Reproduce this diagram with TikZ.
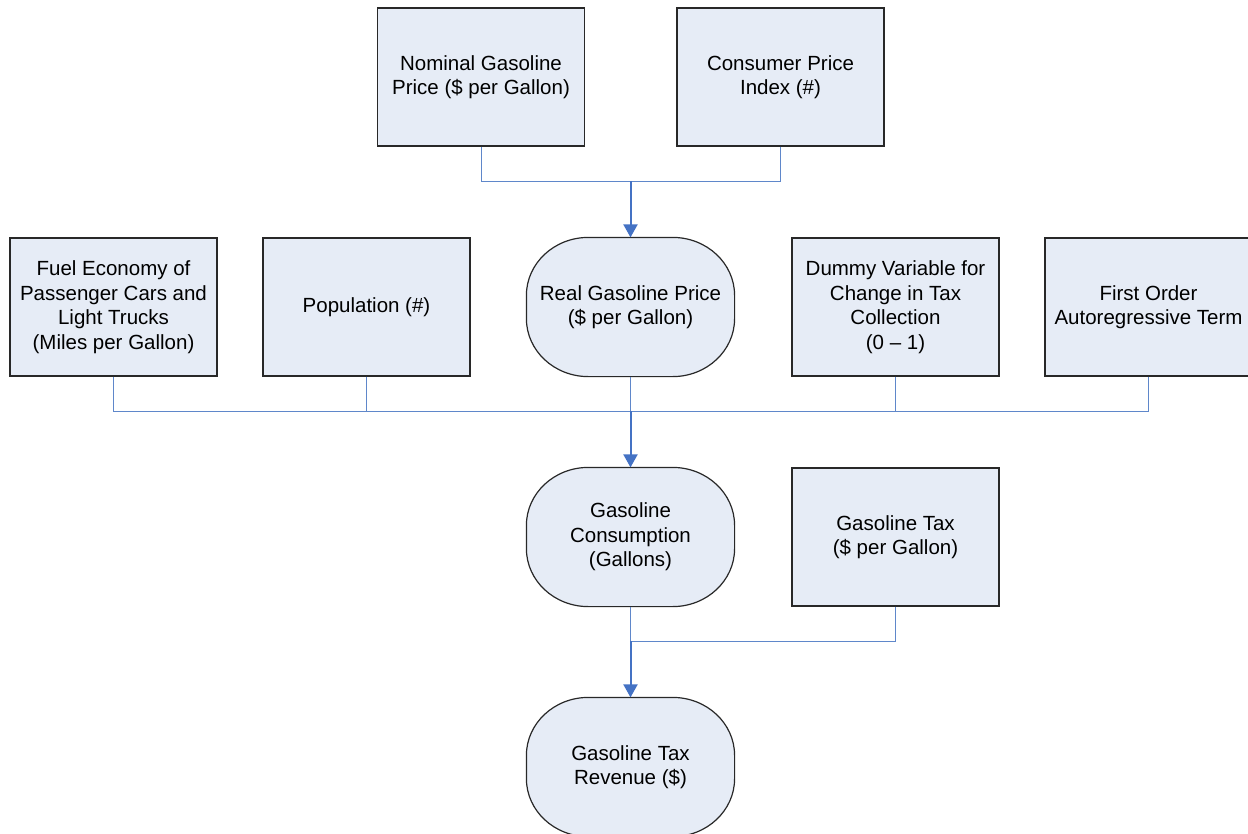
\documentclass[tikz,border=0pt]{standalone}
\usepackage{fontspec}
\setmainfont{Liberation Sans}
\usetikzlibrary{arrows.meta,backgrounds}
\definecolor{boxfill}{RGB}{230,236,246}
\definecolor{boxline}{RGB}{40,40,40}
\definecolor{thinblue}{RGB}{95,135,202}
\definecolor{arrowblue}{RGB}{68,114,196}
\tikzset{
  base/.style={line width=1.2pt, minimum width=207pt,
    minimum height=138pt, inner sep=0pt, align=center,
    font=\fontsize{20.5}{24.5}\selectfont},
  sqbox/.style={base, rectangle, draw=boxline, fill=boxfill},
  rndbox/.style={base, rectangle},
  outline/.style={draw=boxline, line width=1.2pt, fill=boxfill},
  thin/.style={draw=thinblue, line width=1pt},
  flow/.style={draw=arrowblue, line width=2pt, -{Triangle[width=14pt,length=13pt]}}
}
\newcommand\stadiumpath[1]{%
 ([xshift=62pt]#1.north west) -- ([xshift=-62pt]#1.north east)
 arc[start angle=90, end angle=0, x radius=62pt, y radius=58pt]
 -- ([yshift=58pt]#1.south east)
 arc[start angle=0, end angle=-90, x radius=62pt, y radius=58pt]
 -- ([xshift=62pt]#1.south west)
 arc[start angle=270, end angle=180, x radius=62pt, y radius=58pt]
 -- ([yshift=-58pt]#1.north west)
 arc[start angle=180, end angle=90, x radius=62pt, y radius=58pt] -- cycle}
\begin{document}
\begin{tikzpicture}[x=1pt,y=-1pt]
\useasboundingbox (0,0) rectangle (1248,833);
% top row
\node[sqbox] (nom) at (481,77) {Nominal Gasoline\\Price (\$ per Gallon)};
\node[sqbox] (cpi) at (780.5,77) {Consumer Price\\Index (\#)};
% middle row
\node[sqbox] (fuel) at (113.5,307) {Fuel Economy of\\Passenger Cars and\\Light Trucks\\(Miles per Gallon)};
\node[sqbox] (pop) at (366.5,307) {Population (\#)};
\node[rndbox] (real) at (630.5,307) {Real Gasoline Price\\(\$ per Gallon)};
\node[sqbox] (dummy) at (895.5,307) {Dummy Variable for\\Change in Tax\\Collection\\(0 -- 1)};
\node[sqbox] (ar) at (1148.5,307) {First Order\\Autoregressive Term};
% lower rows
\node[rndbox] (cons) at (630.5,537) {Gasoline\\Consumption\\(Gallons)};
\node[sqbox] (tax) at (895.5,537) {Gasoline Tax\\(\$ per Gallon)};
\node[rndbox] (rev) at (630.5,767) {Gasoline Tax\\Revenue (\$)};
% rounded outlines behind the text
\begin{scope}[on background layer]
\path[outline] \stadiumpath{real};
\path[outline] \stadiumpath{cons};
\path[outline] \stadiumpath{rev};
\end{scope}
% junctions
\coordinate (j1) at (630.5,181);
\coordinate (j2) at (630.5,411);
\coordinate (j3) at (630.5,641);
% connectors
\draw[thin] (nom.south) |- (j1);
\draw[thin] (cpi.south) |- (j1);
\draw[flow] (j1) -- (real.north);
\draw[thin] (fuel.south) |- (j2);
\draw[thin] (pop.south) |- (j2);
\draw[thin] (real.south) -- (j2);
\draw[thin] (dummy.south) |- (j2);
\draw[thin] (ar.south) |- (j2);
\draw[flow] (j2) -- (cons.north);
\draw[thin] (cons.south) -- (j3);
\draw[thin] (tax.south) |- (j3);
\draw[flow] (j3) -- (rev.north);
\end{tikzpicture}
\end{document}
